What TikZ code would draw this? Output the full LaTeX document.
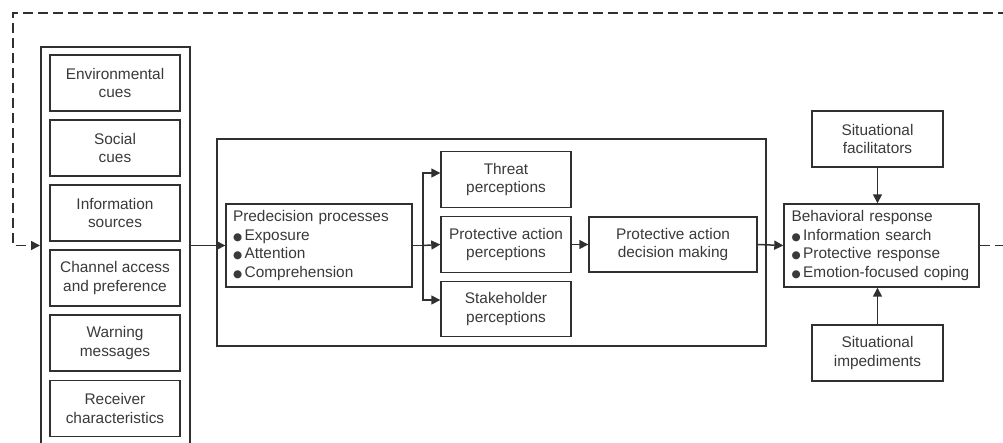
\documentclass[tikz,border=0pt]{standalone}
\usepackage{fontspec}
\setmainfont{Liberation Sans}
\newfontfamily\symf{DejaVu Sans}
\usetikzlibrary{arrows.meta}
\definecolor{ink}{HTML}{303030}
\definecolor{txt}{HTML}{3A3A3A}
\newcommand\bul{{\symf\fontsize{10.5}{10.5}\selectfont ●}\hspace{2.5pt}}
\tikzset{
  box/.style={draw=ink, line width=1.4pt, text=txt, align=center, inner sep=0pt,
    font=\fontsize{15.4}{18.4}\selectfont},
  lbox/.style={box, align=left},
  frame/.style={draw=ink, line width=1.6pt, inner sep=0pt},
  conn/.style={draw=ink, line width=1.5pt},
  arr/.style={conn, -{Triangle[length=9pt,width=9pt]}},
  fb/.style={arr, dash pattern=on 10pt off 5pt},
}
\begin{document}
\begin{tikzpicture}[x=1pt,y=-1pt]
\useasboundingbox (0,0) rectangle (1003,442);
\clip (0,0) rectangle (1003,442);
\fill[white] (0,0) rectangle (1003,442);
% left column
\node[frame, minimum width=149pt, minimum height=430pt, anchor=north west] (lefto) at (40,46) {};
\node[box, minimum width=130pt, minimum height=56pt] (env) at (115,83) {Environmental\\cues};
\node[box, minimum width=130pt, minimum height=56pt] (soc) at (115,148) {Social\\cues};
\node[box, minimum width=130pt, minimum height=56pt] (inf) at (115,213) {Information\\sources};
\node[box, minimum width=130pt, minimum height=56pt] (cha) at (115,278) {Channel access\\and preference};
\node[box, minimum width=130pt, minimum height=56pt] (war) at (115,343) {Warning\\messages};
\node[box, minimum width=130pt, minimum height=56pt] (rec) at (115,408.5) {Receiver\\characteristics};
% middle frame
\node[frame, minimum width=549pt, minimum height=207pt] (mid) at (491.5,242.5) {};
\node[lbox, minimum width=186pt, minimum height=83pt, text width=172pt] (pre) at (319,245.5)
  {Predecision processes\\\bul Exposure\\\bul Attention\\\bul Comprehension};
\node[box, minimum width=130pt, minimum height=56pt] (thr) at (506,179.5) {Threat\\perceptions};
\node[box, minimum width=130pt, minimum height=56pt] (pap) at (506,244.5) {Protective action\\perceptions};
\node[box, minimum width=130pt, minimum height=55pt] (sta) at (506,309) {Stakeholder\\perceptions};
\node[box, minimum width=168pt, minimum height=55pt] (dec) at (673,244.5) {Protective action\\decision making};
% right side
\node[lbox, minimum width=195pt, minimum height=83pt, text width=180pt] (beh) at (881.5,245.5)
  {Behavioral response\\\bul Information search\\\bul Protective response\\\bul Emotion-focused coping};
\node[box, minimum width=131pt, minimum height=56pt] (fac) at (877.5,139) {Situational\\facilitators};
\node[box, minimum width=131pt, minimum height=56pt] (imp) at (877.5,353) {Situational\\impediments};
% connectors
\coordinate (br) at (423,245.5);
\coordinate (fr) at (1020,13);
\coordinate (fl) at (13,13);
\draw[arr] (lefto.east |- pre.west) -- (pre.west);
\draw[conn] (pre.east) -- (br);
\draw[arr] (br) |- ([yshift=6.5pt]thr.west);
\draw[arr] (br) -- (pap.west);
\draw[arr] (br) |- ([yshift=9pt]sta.west);
\draw[arr] (pap.east) -- (dec.west);
\draw[arr] (dec.east) -- (beh.west);
\draw[arr] (fac.south) -- (fac.south |- beh.north);
\draw[arr] (imp.north) -- (imp.north |- beh.south);
\draw[fb] (beh.east) -| (fr) -- (fl) |- (lefto.west |- pre.west);
\end{tikzpicture}
\end{document}
